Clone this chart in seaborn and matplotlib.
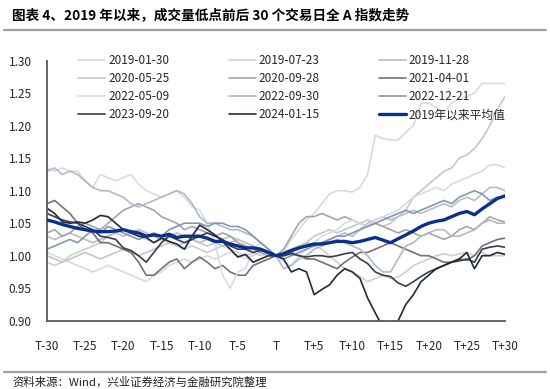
import matplotlib
matplotlib.use("Agg")
import matplotlib.pyplot as plt
import seaborn as sns
import pandas as pd

x_labels = ["T-30", "T-25", "T-20", "T-15", "T-10", "T-5", "T",
            "T+5", "T+10", "T+15", "T+20", "T+25", "T+30"]
days = list(range(-30, 31))

s_2019_01_30 = [1.005, 1.00, 0.995, 0.99, 0.985, 0.98, 0.975, 0.98, 0.985, 0.98,
                0.975, 0.97, 0.965, 0.96, 0.97, 0.975, 0.985, 0.99, 0.995, 0.99,
                0.995, 1.00, 0.995, 1.00, 1.005, 1.00, 0.995, 1.00, 1.005, 1.00,
                1.00,
                1.005, 1.025, 1.04, 1.055, 1.065, 1.08, 1.095, 1.10, 1.10, 1.098,
                1.105, 1.125, 1.185, 1.18, 1.178, 1.178, 1.19, 1.20, 1.235, 1.235,
                1.228, 1.22, 1.235, 1.24, 1.245, 1.25, 1.265, 1.265, 1.265, 1.265]
s_2019_07_23 = [0.99, 0.985, 0.99, 1.0, 1.005, 1.01, 1.015, 1.02, 1.03, 1.035,
                1.04, 1.035, 1.03, 1.025, 1.02, 1.025, 1.02, 1.015, 1.01, 1.015,
                1.01, 1.005, 1.01, 1.015, 1.01, 1.005, 1.0, 1.005, 1.0, 1.005,
                1.0,
                1.005, 1.01, 1.015, 1.02, 1.015, 1.01, 1.0, 0.99, 0.98, 0.975,
                0.968, 0.96, 0.965, 0.97, 0.965, 0.967, 0.975, 0.985, 0.99, 0.995,
                1.0, 1.003, 1.0, 1.003, 1.005, 1.0, 1.005, 1.0, 1.0, 1.0]
s_2019_11_28 = [1.03, 1.025, 1.03, 1.035, 1.03, 1.025, 1.02, 1.025, 1.03, 1.035,
                1.03, 1.035, 1.04, 1.035, 1.03, 1.025, 1.03, 1.035, 1.03, 1.025,
                1.02, 1.025, 1.02, 1.015, 1.02, 1.025, 1.02, 1.015, 1.01, 1.005,
                1.0,
                1.0, 1.005, 1.01, 1.02, 1.015, 1.02, 1.025, 1.03, 1.035, 1.03,
                1.04, 1.05, 1.055, 1.06, 1.055, 1.06, 1.065, 1.07, 1.065, 1.07,
                1.075, 1.08, 1.075, 1.085, 1.09, 1.085, 1.095, 1.105, 1.105, 1.10]
s_2020_05_25 = [1.00, 0.995, 0.99, 0.995, 1.00, 1.005, 1.00, 0.995, 1.00, 1.005,
                1.01, 1.005, 1.00, 1.005, 1.01, 1.015, 1.02, 1.015, 1.02, 1.025,
                1.02, 1.015, 1.02, 1.025, 1.03, 1.025, 1.02, 1.015, 1.01, 1.005,
                1.0,
                1.005, 1.01, 1.015, 1.02, 1.03, 1.035, 1.04, 1.035, 1.04, 1.045,
                1.05, 1.055, 1.05, 1.045, 1.05, 1.06, 1.07, 1.09, 1.10, 1.11,
                1.12, 1.13, 1.135, 1.15, 1.155, 1.165, 1.18, 1.20, 1.225, 1.245]
s_2020_09_28 = [1.035, 1.04, 1.03, 1.035, 1.045, 1.05, 1.045, 1.04, 1.05, 1.06,
                1.07, 1.075, 1.08, 1.075, 1.07, 1.06, 1.055, 1.05, 1.04, 1.045,
                1.04, 1.035, 1.03, 1.035, 1.03, 1.02, 1.015, 1.01, 1.005, 1.0,
                1.0,
                1.01, 1.03, 1.05, 1.06, 1.06, 1.065, 1.06, 1.055, 1.06, 1.055,
                1.05, 1.045, 1.05, 1.045, 1.04, 1.035, 1.04, 1.035, 1.03, 1.035,
                1.03, 1.025, 1.03, 1.04, 1.045, 1.04, 1.05, 1.06, 1.055, 1.052]
s_2021_04_01 = [1.08, 1.085, 1.075, 1.065, 1.05, 1.04, 1.035, 1.02, 1.02, 1.015,
                1.01, 1.005, 0.99, 0.97, 0.97, 0.98, 0.99, 0.995, 0.98, 0.99,
                0.998, 0.99, 0.98, 0.985, 0.975, 0.97, 0.97, 0.985, 0.99, 0.995,
                1.0,
                1.0, 1.005, 1.0, 0.995, 0.995, 0.99, 0.985, 0.98, 0.99, 0.998,
                1.005, 1.005, 1.01, 1.015, 1.02, 1.015, 1.01, 1.005, 1.0, 1.0,
                0.995, 0.99, 0.99, 0.995, 0.993, 1.0, 1.015, 1.02, 1.025, 1.027]
s_2022_05_09 = [1.135, 1.13, 1.135, 1.13, 1.13, 1.115, 1.105, 1.125, 1.12, 1.115,
                1.12, 1.125, 1.11, 1.10, 1.095, 1.09, 1.095, 1.10, 1.09, 1.075,
                1.07, 1.05, 1.02, 0.97, 0.95, 0.975, 0.98, 1.01, 1.02, 1.01,
                1.0,
                0.99, 0.985, 1.0, 1.01, 1.02, 1.03, 1.035, 1.04, 1.05, 1.055,
                1.05, 1.045, 1.055, 1.06, 1.065, 1.07, 1.08, 1.09, 1.095, 1.10,
                1.105, 1.10, 1.11, 1.115, 1.12, 1.125, 1.13, 1.14, 1.14, 1.135]
s_2022_09_30 = [1.13, 1.135, 1.125, 1.13, 1.125, 1.115, 1.105, 1.10, 1.10, 1.095,
                1.09, 1.08, 1.075, 1.08, 1.085, 1.09, 1.095, 1.10, 1.095, 1.08,
                1.06, 1.05, 1.05, 1.045, 1.04, 1.04, 1.035, 1.03, 1.02, 1.01,
                1.0,
                0.98, 0.985, 0.995, 1.0, 1.01, 1.015, 1.02, 1.025, 1.02, 1.015,
                1.01, 1.0, 0.985, 0.975, 0.975, 0.995, 1.015, 1.02, 1.03, 1.035,
                1.04, 1.04, 1.03, 1.03, 1.035, 1.04, 1.05, 1.055, 1.05, 1.05]
s_2022_12_21 = [1.01, 1.015, 1.02, 1.025, 1.02, 1.03, 1.04, 1.035, 1.045, 1.04,
                1.035, 1.03, 1.025, 1.03, 1.035, 1.03, 1.04, 1.045, 1.05, 1.05,
                1.05, 1.045, 1.05, 1.05, 1.045, 1.045, 1.04, 1.03, 1.02, 1.01,
                1.0,
                0.995, 1.0, 1.005, 1.01, 1.015, 1.02, 1.025, 1.03, 1.03, 1.035,
                1.04, 1.045, 1.05, 1.055, 1.06, 1.065, 1.07, 1.065, 1.07, 1.075,
                1.08, 1.085, 1.08, 1.09, 1.095, 1.10, 1.095, 1.085, 1.09, 1.09]
s_2023_09_20 = [1.065, 1.06, 1.055, 1.052, 1.05, 1.045, 1.04, 1.03, 1.028, 1.025,
                1.012, 1.008, 1.0, 0.99, 1.005, 1.02, 1.03, 1.025, 1.02, 1.025,
                1.03, 1.035, 1.03, 1.025, 1.015, 1.01, 1.01, 1.005, 1.008, 1.005,
                1.0,
                1.0, 1.003, 1.0, 0.998, 1.0, 1.0, 0.998, 1.0, 1.003, 1.005,
                0.995, 0.988, 0.975, 0.97, 0.968, 0.958, 0.953, 0.96, 0.968, 0.975,
                0.98, 0.985, 0.99, 0.992, 0.995, 0.99, 1.01, 1.013, 1.015, 1.013]
s_2024_01_15 = [1.073, 1.065, 1.052, 1.05, 1.052, 1.05, 1.055, 1.062, 1.06, 1.05,
                1.04, 1.035, 1.03, 1.028, 1.02, 1.027, 1.022, 1.018, 1.01, 1.03,
                1.047, 1.04, 1.032, 1.022, 1.01, 0.998, 1.002, 0.99, 0.995, 1.0,
                1.0,
                0.995, 0.975, 0.98, 0.975, 0.94, 0.948, 0.955, 0.97, 0.98, 0.975,
                0.965, 0.935, 0.912, 0.89, 0.875, 0.90, 0.925, 0.94, 0.96, 0.97,
                0.98, 0.985, 0.99, 0.995, 1.005, 0.98, 1.0, 1.0, 1.005, 1.002]
s_avg = [1.055, 1.052, 1.048, 1.045, 1.042, 1.04, 1.038, 1.037, 1.037, 1.038,
         1.04, 1.037, 1.035, 1.03, 1.032, 1.03, 1.033, 1.028, 1.03, 1.03,
         1.03, 1.027, 1.022, 1.022, 1.018, 1.015, 1.012, 1.012, 1.01, 1.005,
         1.0,
         1.003, 1.008, 1.012, 1.015, 1.018, 1.018, 1.02, 1.022, 1.022, 1.02,
         1.022, 1.025, 1.028, 1.024, 1.02, 1.026, 1.032, 1.038, 1.045, 1.05,
         1.053, 1.055, 1.06, 1.065, 1.068, 1.063, 1.072, 1.08, 1.088, 1.092]

series_names = ["2019-01-30", "2019-07-23", "2019-11-28",
                "2020-05-25", "2020-09-28", "2021-04-01",
                "2022-05-09", "2022-09-30", "2022-12-21",
                "2023-09-20", "2024-01-15", "2019年以来平均值"]
series_values = [s_2019_01_30, s_2019_07_23, s_2019_11_28,
                 s_2020_05_25, s_2020_09_28, s_2021_04_01,
                 s_2022_05_09, s_2022_09_30, s_2022_12_21,
                 s_2023_09_20, s_2024_01_15, s_avg]
colors = ["#dadada", "#cfcfcf", "#bcbcbc",
          "#c6c6c6", "#a5a5a5", "#767171",
          "#d6dce5", "#adb9ca", "#8497b0",
          "#333f50", "#222a35", "#0a2f8f"]

sns.set_style("white")
plt.rcParams['font.family'] = ['Noto Sans CJK SC', 'DejaVu Sans']

fig = plt.figure(figsize=(5.5, 3.89), dpi=100)
ax = fig.add_axes([47/550, 1-320.7/389, 458/550, 260/389])

handles = []
for name, vals, col in zip(series_names, series_values, colors):
    df = pd.DataFrame({"day": days, "val": vals})
    is_avg = name.startswith("2019年")
    sns.lineplot(data=df, x="day", y="val", ax=ax, color=col,
                 lw=2.4 if is_avg else 1.2, label=name, legend=False,
                 zorder=5 if is_avg else 2)
    handles.append(ax.lines[-1])

ax.set_xlim(-30, 30)
ax.set_ylim(0.90, 1.30)
ax.set_xticks(list(range(-30, 31, 5)))
ax.set_xticklabels(x_labels)
ax.set_yticks([0.90, 0.95, 1.00, 1.05, 1.10, 1.15, 1.20, 1.25, 1.30])
ax.set_yticklabels([f"{v:.2f}" for v in [0.90, 0.95, 1.00, 1.05, 1.10, 1.15, 1.20, 1.25, 1.30]])
ax.set_xlabel("")
ax.set_ylabel("")
for s in ["top", "right"]:
    ax.spines[s].set_visible(False)
for s in ["left", "bottom"]:
    ax.spines[s].set_color("#595959")
    ax.spines[s].set_linewidth(1.3)
ax.tick_params(axis="both", direction="in", length=4, width=1.0, color="#595959",
               labelsize=8.5, labelcolor="#262626")
ax.tick_params(axis="y", pad=11)
ax.tick_params(axis="x", pad=14)

order = [0, 3, 6, 9, 1, 4, 7, 10, 2, 5, 8, 11]
leg = ax.legend([handles[i] for i in order], [series_names[i] for i in order],
                ncol=3, frameon=False, fontsize=8.5, handlelength=2.3,
                handletextpad=0.25, columnspacing=5.0, labelspacing=0.42,
                loc="upper left", bbox_to_anchor=(0.045, 1.065))
for t in leg.get_texts():
    t.set_color("#262626")

fig.text(12/550, 1-16/389, "图表 4、2019 年以来，成交量低点前后 30 个交易日全 A 指数走势",
         fontsize=9.8, fontweight="bold", va="center", ha="left", color="#000000")
fig.add_artist(plt.Line2D([4/550, 546/550], [1-30/389, 1-30/389], color="#a0a0a0", lw=1.6))
fig.add_artist(plt.Line2D([4/550, 546/550], [1-371.7/389, 1-371.7/389], color="#a0a0a0", lw=1.6))
fig.text(12/550, 1-382/389, "资料来源：Wind，兴业证券经济与金融研究院整理",
         fontsize=8.2, va="center", ha="left", color="#222222")

fig.savefig("out.png", dpi=100)
